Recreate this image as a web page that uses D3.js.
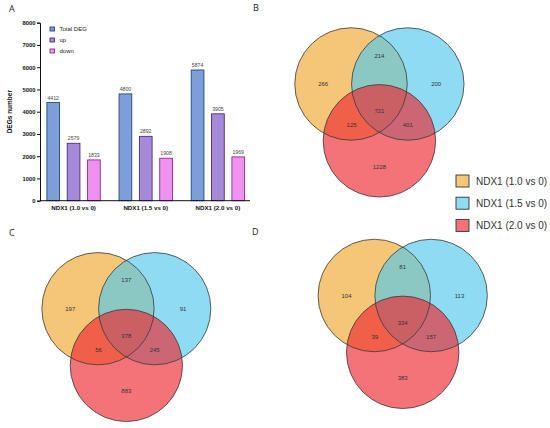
<!DOCTYPE html>
<html>
<head>
<meta charset="utf-8">
<script src="https://cdn.jsdelivr.net/npm/d3@7"></script>
<style>
    body { margin: 0; background: #fff; }
    svg { display: block; }
</style>
</head>
<body>
<div id="wrapper"></div>
<script>
// bar panel data
const groups = ["NDX1 (1.0 vs 0)", "NDX1 (1.5 vs 0)", "NDX1 (2.0 vs 0)"]
const seriesNames = ["Total DEG", "up", "down"]
const totalDeg = [4412, 4800, 5874]
const upDeg = [2579, 2892, 3905]
const downDeg = [1833, 1908, 1969]
const yTicks = [0, 1000, 2000, 3000, 4000, 5000, 6000, 7000, 8000]

// venn panels: region counts in order A only, AB, B only, ABC, AC, BC, C only
const vennSets = ["NDX1 (1.0 vs 0)", "NDX1 (1.5 vs 0)", "NDX1 (2.0 vs 0)"]
const vennB = [266, 214, 200, 721, 125, 401, 1228]
const vennC = [197, 137, 91, 378, 56, 245, 883]
const vennD = [104, 81, 113, 334, 39, 157, 383]

const width = 550
const height = 428

const svg = d3.select("#wrapper")
    .append("svg")
    .attr("width", width)
    .attr("height", height)
    .style("font-family", "Liberation Sans, Arial, sans-serif")

svg.append("rect").attr("width", width).attr("height", height).attr("fill", "#fff")

// panel letters
const letters = [["A", 9, 12], ["B", 253, 11], ["C", 9, 236], ["D", 252, 235]]
svg.selectAll(".letter")
    .data(letters)
    .enter()
    .append("text")
    .attr("x", d => d[1])
    .attr("y", d => d[2])
    .text(d => d[0])
    .attr("font-family", "Open Sans, sans-serif")
    .attr("font-size", "9px")
    .attr("fill", "#222")

// ---------------- bar chart ----------------
const barFill = ["#7b9fd9", "#a58ad8", "#ef92ef"]
const barStroke = ["#27457d", "#4b2c80", "#8a2c8c"]
const seriesData = [totalDeg, upDeg, downDeg]

const yScaler = d3.scaleLinear()
    .domain([0, 8000])
    .range([200.7, 22.7])

const xScaler = d3.scaleBand()
    .domain(groups)
    .range([37.5, 254])

const innerScaler = d3.scaleBand()
    .domain(seriesNames)
    .range([-30.5, 30.5])
    .paddingInner(0.375)
    .paddingOuter(0.1875)

const barBounds = svg.append("g")

const rows = []
groups.forEach((g, i) => {
    seriesNames.forEach((s, j) => {
        rows.push({ group: g, series: s, idx: j, value: seriesData[j][i] })
    })
})

barBounds.selectAll("rect.bar")
    .data(rows)
    .enter()
    .append("rect")
    .attr("class", "bar")
    .attr("x", d => xScaler(d.group) + xScaler.bandwidth() / 2 + innerScaler(d.series))
    .attr("y", d => yScaler(d.value))
    .attr("width", innerScaler.bandwidth())
    .attr("height", d => yScaler(0) - yScaler(d.value))
    .attr("fill", d => barFill[d.idx])
    .attr("stroke", d => barStroke[d.idx])
    .attr("stroke-width", 0.9)

barBounds.selectAll("text.val")
    .data(rows)
    .enter()
    .append("text")
    .attr("x", d => xScaler(d.group) + xScaler.bandwidth() / 2 + innerScaler(d.series) + innerScaler.bandwidth() / 2)
    .attr("y", d => yScaler(d.value) - 3)
    .text(d => d.value)
    .attr("font-size", "5.2px")
    .attr("fill", "#444")
    .attr("text-anchor", "middle")

const yAxisGen = d3.axisLeft(yScaler)
    .tickValues(yTicks)
    .tickFormat(d3.format("d"))
    .tickSize(3)
    .tickPadding(1.5)
const yAxis = barBounds.append("g")
    .attr("transform", "translate(40,0)")
    .call(yAxisGen)
yAxis.select(".domain").attr("stroke", "#111").attr("stroke-width", 1)
yAxis.selectAll(".tick line").attr("stroke", "#111").attr("stroke-width", 1)
yAxis.selectAll(".tick text")
    .attr("font-size", "5.8px")
    .attr("font-weight", "bold")
    .attr("font-family", "Liberation Sans, Arial, sans-serif")
    .attr("fill", "#111")

const xAxisGen = d3.axisBottom(xScaler)
    .tickSize(0)
    .tickPadding(5)
const xAxis = barBounds.append("g")
    .attr("transform", `translate(0,${yScaler(0)})`)
    .call(xAxisGen)
xAxis.select(".domain")
    .attr("d", "M2.5,0H212.5")
    .attr("transform", "translate(37.5,0)")
    .attr("stroke", "#111")
    .attr("stroke-width", 1)
xAxis.selectAll(".tick text")
    .attr("font-size", "6.2px")
    .attr("font-weight", "bold")
    .attr("font-family", "Liberation Sans, Arial, sans-serif")
    .attr("fill", "#111")

barBounds.append("text")
    .attr("transform", `translate(12,${(yScaler(0) + yScaler(8000)) / 2}) rotate(-90)`)
    .text("DEGs number")
    .attr("font-size", "6.5px")
    .attr("font-weight", "bold")
    .attr("text-anchor", "middle")
    .attr("fill", "#111")

const barLegend = barBounds.selectAll("g.leg")
    .data(seriesNames)
    .enter()
    .append("g")
    .attr("transform", (d, i) => `translate(50,${29 + i * 11})`)
barLegend.append("rect")
    .attr("x", 0)
    .attr("y", -2)
    .attr("width", 4.5)
    .attr("height", 4)
    .attr("fill", (d, i) => barFill[i])
    .attr("stroke", (d, i) => barStroke[i])
    .attr("stroke-width", 0.9)
barLegend.append("text")
    .attr("x", 9.5)
    .attr("y", 2)
    .text(d => d)
    .attr("font-size", "6px")
    .attr("fill", "#222")

// ---------------- venn diagrams ----------------
const circleBase = ["#f0a830", "#51c9ed", "#ed282f"]
const legendFill = ["#f5c678", "#8edcf3", "#f37378"]
const fillOpacity = 0.65

// unit geometry: circle centres and region label anchors, in units of circle spacing
const circleUnits = [[0, 0], [1, 0], [0.5, 1]]
const regionUnits = [[-0.49, 0], [0.5, -0.5], [1.5, 0], [0.5, 0.48], [0.01, 0.73], [1, 0.73], [0.5, 1.46]]
const radiusUnit = 0.99

function drawVenn(counts, originX, originY, step) {
    const vx = d3.scaleLinear().domain([0, 1]).range([originX, originX + step])
    const vy = d3.scaleLinear().domain([0, 1]).range([originY, originY + step])
    const r = radiusUnit * step
    const g = svg.append("g")

    g.selectAll("circle.fill")
        .data(circleUnits)
        .enter()
        .append("circle")
        .attr("cx", d => vx(d[0]))
        .attr("cy", d => vy(d[1]))
        .attr("r", r)
        .attr("fill", (d, i) => circleBase[i])
        .attr("fill-opacity", fillOpacity)

    g.selectAll("circle.edge")
        .data(circleUnits)
        .enter()
        .append("circle")
        .attr("cx", d => vx(d[0]))
        .attr("cy", d => vy(d[1]))
        .attr("r", r)
        .attr("fill", "none")
        .attr("stroke", "#3a3a3a")
        .attr("stroke-width", 0.8)

    g.selectAll("text")
        .data(counts)
        .enter()
        .append("text")
        .attr("x", (d, i) => vx(regionUnits[i][0]))
        .attr("y", (d, i) => vy(regionUnits[i][1]) + 2)
        .text(d => d)
        .attr("font-size", "6px")
        .attr("fill", "#333")
        .attr("text-anchor", "middle")
}

drawVenn(vennB, 351, 84, 56.8)
drawVenn(vennC, 98, 308.7, 56.7)
drawVenn(vennD, 374.3, 295.5, 56.8)

// venn legend
const vennLegend = svg.selectAll("g.vleg")
    .data(vennSets)
    .enter()
    .append("g")
    .attr("transform", (d, i) => `translate(456,${175 + i * 22.2})`)
vennLegend.append("rect")
    .attr("width", 13)
    .attr("height", 12)
    .attr("fill", (d, i) => legendFill[i])
    .attr("stroke", "#333")
    .attr("stroke-width", 0.9)
vennLegend.append("text")
    .attr("x", 20)
    .attr("y", 9.7)
    .text(d => d)
    .attr("font-size", "10px")
    .attr("fill", "#333")
</script>
</body>
</html>
